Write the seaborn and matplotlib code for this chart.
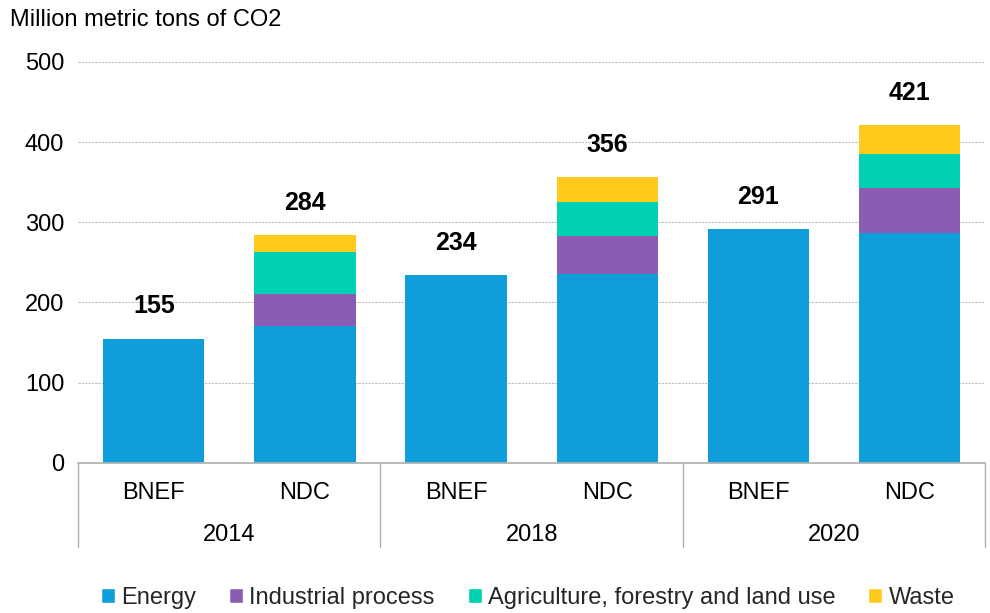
import numpy as np
import pandas as pd
import seaborn as sns
import matplotlib.pyplot as plt
from matplotlib.patches import Patch
from matplotlib.transforms import blended_transform_factory

# data
years = ["2014", "2018", "2020"]
sources = ["BNEF", "NDC"]
energy = [155, 171, 234, 236, 291, 286]
industrial = [0, 40, 0, 47, 0, 57]
agriculture = [0, 52, 0, 42, 0, 42]
waste = [0, 21, 0, 31, 0, 36]
totals = [155, 284, 234, 356, 291, 421]

layer_names = ["Energy", "Industrial process", "Agriculture, forestry and land use", "Waste"]
layer_colors = ["#0F9ED9", "#8A5DB2", "#00D1B4", "#FFCA1C"]

bars = [f"{y} {s}" for y in years for s in sources]
df = pd.DataFrame({"bar": bars, "Energy": energy, "Industrial process": industrial,
                   "Agriculture, forestry and land use": agriculture, "Waste": waste})
cum = df[layer_names].cumsum(axis=1)

sns.set_theme(style="white")
plt.rcParams['font.family'] = ['Liberation Sans', 'DejaVu Sans']

fig = plt.figure(figsize=(9.9, 6.13), dpi=100)
ax = fig.add_axes([0.079, 0.245, 0.916, 0.654])

# draw stacked layers from the top down so lower layers cover upper ones
for name, col in reversed(list(zip(layer_names, layer_colors))):
    sns.barplot(x=df["bar"], y=cum[name], order=bars, color=col, width=0.67,
                saturation=1, ax=ax, edgecolor="none")

for i, t in enumerate(totals):
    ax.text(i, t + 25, str(t), ha="center", va="bottom", fontsize=18, fontweight="bold",
            color="black")

ax.set_ylim(0, 500)
ax.set_xlim(-0.5, 5.5)
ax.set_yticks(range(0, 501, 100))
ax.yaxis.grid(True, linestyle=(0, (2, 1)), color="#bdbdbd", linewidth=0.8)
ax.set_axisbelow(True)
for s in ["top", "right", "left"]:
    ax.spines[s].set_visible(False)
ax.spines["bottom"].set_color("#b0b0b0")
ax.set_xlabel("")
ax.set_ylabel("")
ax.set_xticks(range(6))
ax.set_xticklabels([s for _ in years for s in sources])
ax.tick_params(axis="x", length=0, pad=14, labelsize=17, labelcolor="black")
ax.tick_params(axis="y", length=0, pad=10, labelsize=17, labelcolor="black")

# group labels and separators below the axis
trans = blended_transform_factory(ax.transData, ax.transAxes)
for g, y in enumerate(years):
    ax.text(2 * g + 0.5, -0.18, y, transform=trans, ha="center", va="center", fontsize=17,
            color="black")
for xs in [-0.5, 1.5, 3.5, 5.5]:
    ax.plot([xs, xs], [0, -0.21], transform=trans, color="#b0b0b0", linewidth=1, clip_on=False)

fig.text(0.01, 0.967, "Million metric tons of CO2", fontsize=17, va="center", color="black")

handles = [Patch(facecolor=c, label=n) for n, c in zip(layer_names, layer_colors)]
fig.legend(handles=handles, loc="center", bbox_to_anchor=(0.533, 0.024), ncol=4, frameon=False,
           fontsize=17, handlelength=0.6, handleheight=0.6, handletextpad=0.25, columnspacing=1.4)

fig.savefig("out.png", dpi=100)
